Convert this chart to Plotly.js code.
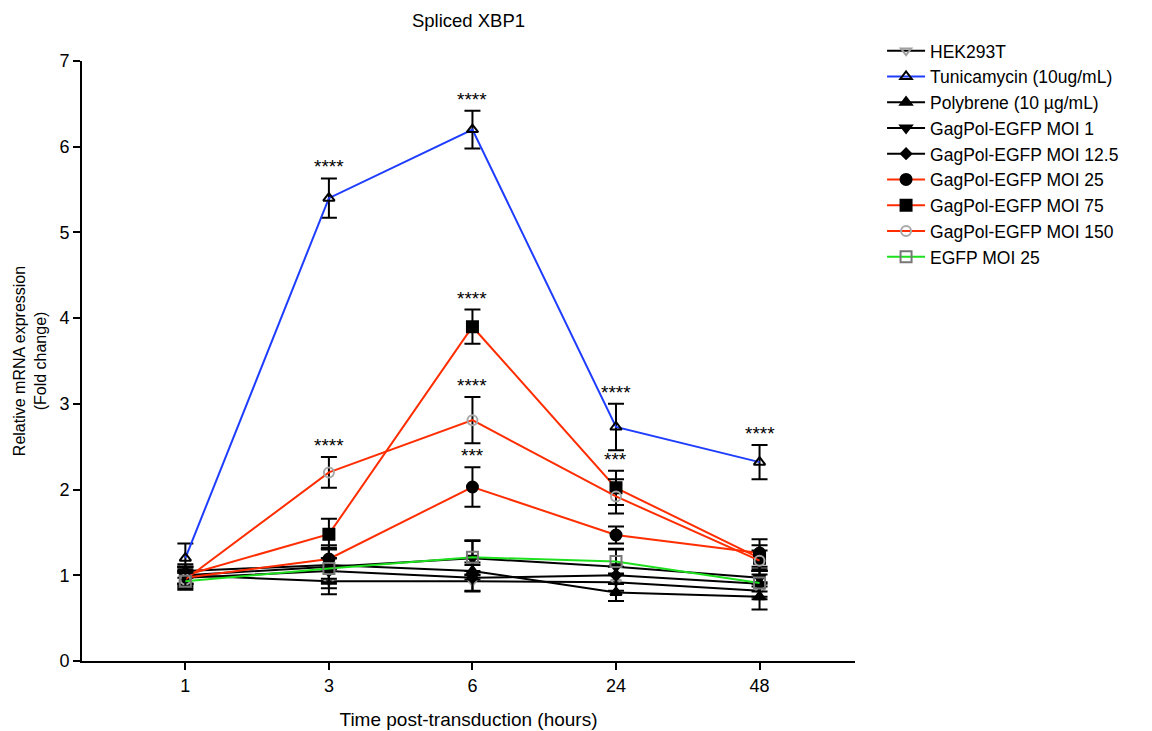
<!DOCTYPE html>
<html><head><meta charset="utf-8">
<script src="https://cdn.plot.ly/plotly-3.0.1.min.js"></script>
<style>html,body{margin:0;padding:0;background:#fff}</style>
</head><body>
<div id="chart" style="width:1152px;height:731px"></div>
<script>
const timeLabels = ["1", "3", "6", "24", "48"];
const seriesNames = ["HEK293T", "Tunicamycin (10ug/mL)", "Polybrene (10 µg/mL)", "GagPol-EGFP MOI 1",
  "GagPol-EGFP MOI 12.5", "GagPol-EGFP MOI 25", "GagPol-EGFP MOI 75", "GagPol-EGFP MOI 150", "EGFP MOI 25"];
const hek293t      = [1.00, 0.93, 0.93, 0.92, 0.82];
const hek293tErr   = [0.10, 0.15, 0.12, 0.10, 0.10];
const tunicamycin  = [1.20, 5.40, 6.20, 2.73, 2.32];
const tunicErr     = [0.17, 0.23, 0.22, 0.27, 0.20];
const polybrene    = [1.05, 1.12, 1.05, 0.80, 0.75];
const polyErr      = [0.08, 0.20, 0.10, 0.10, 0.15];
const moi1         = [1.00, 1.10, 1.20, 1.10, 0.97];
const moi1Err      = [0.10, 0.25, 0.20, 0.20, 0.10];
const moi12_5      = [0.97, 1.05, 0.97, 1.00, 0.90];
const moi12_5Err   = [0.10, 0.15, 0.15, 0.10, 0.15];
const moi25        = [0.97, 1.19, 2.03, 1.47, 1.26];
const moi25Err     = [0.08, 0.12, 0.23, 0.10, 0.16];
const moi75        = [1.00, 1.48, 3.90, 2.02, 1.20];
const moi75Err     = [0.10, 0.18, 0.20, 0.20, 0.15];
const moi150       = [0.95, 2.20, 2.81, 1.92, 1.17];
const moi150Err    = [0.10, 0.18, 0.27, 0.20, 0.12];
const egfp25       = [0.93, 1.08, 1.21, 1.16, 0.91];
const egfp25Err    = [0.10, 0.12, 0.20, 0.15, 0.10];
// significance marks: [series index, time index, text]
const sigSeries = [1, 1, 1, 1, 6, 7, 7, 5, 6];
const sigTime   = [1, 2, 3, 4, 2, 1, 2, 2, 3];
const sigText   = ["****", "****", "****", "****", "****", "****", "****", "***", "***"];

const values = [hek293t, tunicamycin, polybrene, moi1, moi12_5, moi25, moi75, moi150, egfp25];
const errors = [hek293tErr, tunicErr, polyErr, moi1Err, moi12_5Err, moi25Err, moi75Err, moi150Err, egfp25Err];

const BLUE = "#1f3dff", RED = "#ff2d00", GREEN = "#1fe01f";
const styles = [
  {line: "#000", sym: "triangle-down-open", mc: "#a0a0a0", size: 9},
  {line: BLUE, sym: "triangle-up-open", mc: "#000", size: 10},
  {line: "#000", sym: "triangle-up", mc: "#000", size: 10},
  {line: "#000", sym: "triangle-down", mc: "#000", size: 10},
  {line: "#000", sym: "diamond", mc: "#000", size: 8},
  {line: RED, sym: "circle", mc: "#000", size: 11},
  {line: RED, sym: "square", mc: "#000", size: 11},
  {line: RED, sym: "circle-open", mc: "#a8a8a8", size: 10},
  {line: GREEN, sym: "square-open", mc: "#777", size: 11}
];

const xIdx = timeLabels.map((_, i) => i);
const traces = values.map((v, k) => ({
  type: "scatter", mode: "lines+markers", name: seriesNames[k],
  x: xIdx, y: v,
  line: {color: styles[k].line, width: 2},
  marker: {symbol: styles[k].sym, color: styles[k].mc, size: styles[k].size,
           line: {color: styles[k].mc, width: 2}},
  error_y: {type: "data", array: errors[k], visible: true, color: "#000", thickness: 2, width: 8}
}));

const annotations = sigText.map((t, i) => ({
  x: sigTime[i], y: values[sigSeries[i]][sigTime[i]] + errors[sigSeries[i]][sigTime[i]],
  xref: "x", yref: "y", text: t, showarrow: false, yanchor: "bottom", yshift: -1,
  font: {family: "Liberation Sans, Arial, sans-serif", size: 19, color: "#000"}
}));

const layout = {
  width: 1152, height: 731,
  margin: {l: 82, r: 297, t: 61, b: 70},
  paper_bgcolor: "#fff", plot_bgcolor: "#fff",
  font: {family: "Liberation Sans, Arial, sans-serif", size: 18, color: "#000"},
  title: {text: "Spliced XBP1", x: 0.5, xref: "paper", xanchor: "center", y: 0.972, yanchor: "middle",
          font: {size: 18.5}},
  xaxis: {
    range: [-0.72, 4.665], tickvals: xIdx, ticktext: timeLabels,
    showline: true, linecolor: "#000", linewidth: 2, showgrid: false, zeroline: false,
    ticks: "outside", ticklen: 7, tickwidth: 2, tickcolor: "#000", tickfont: {size: 18},
    title: {text: "Time post-transduction (hours)", standoff: 18, font: {size: 19}}
  },
  yaxis: {
    range: [0, 7], dtick: 1, tick0: 0,
    showline: true, linecolor: "#000", linewidth: 2, showgrid: false, zeroline: false,
    ticks: "outside", ticklen: 7, tickwidth: 2, tickcolor: "#000", tickfont: {size: 18},
    title: {text: "Relative mRNA expression<br>(Fold change)", standoff: 9, font: {size: 16}}
  },
  legend: {x: 1.035, xanchor: "left", y: 1.047, yanchor: "top", font: {size: 17.5},
           tracegroupgap: 0, itemwidth: 38, bgcolor: "rgba(0,0,0,0)"},
  showlegend: true,
  annotations: annotations
};

Plotly.newPlot("chart", traces, layout, {displayModeBar: false, staticPlot: true});
</script>
</body></html>
